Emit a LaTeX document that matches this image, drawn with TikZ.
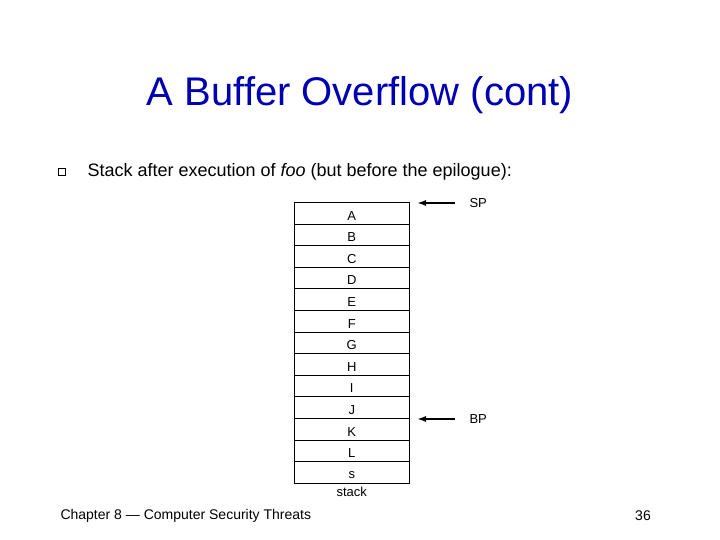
\documentclass[tikz,border=0pt]{standalone}
\usepackage{fontspec}
\usetikzlibrary{arrows.meta}
\setmainfont{Liberation Sans}
\begin{document}
\begin{tikzpicture}[x=1pt,y=-1pt,
  cell/.style={draw,semithick,minimum width=115pt,minimum height=21.6pt,inner sep=0pt,text depth=0pt,font=\fontsize{13}{13}\selectfont},
  lab/.style={font=\fontsize{13}{13}\selectfont},
  ptr/.style={-{Latex[length=9pt,width=6pt]},line width=1.6pt}]
\useasboundingbox (0,0) rectangle (720,540);
\node (title) at (360,95) {\fontsize{40}{42}\selectfont\color{blue!70!black}A Buffer Overflow (cont)};
\node[draw,minimum size=7pt,inner sep=0pt] (bul) at (62,172) {};
\node[anchor=west,font=\fontsize{18}{20}\selectfont] (txt) at (84,172) {Stack after execution of \textit{foo} (but before the epilogue):};
\foreach \l [count=\i from 0] in {A,B,C,D,E,F,G,H,I,J,K,L,s}{
  \node[cell,anchor=north west] (c\i) at (294,{202+21.6*\i}) {\raisebox{-5pt}{\l}};
}
\node[lab,anchor=north] (stk) at (c12.south) {stack};
\coordinate (spend) at (455,203);
\coordinate (bpend) at (455,419);
\node[lab,anchor=west] (sp) at (466,203) {SP};
\node[lab,anchor=west] (bp) at (466,419) {BP};
\draw[ptr] (spend) -- (417,203);
\draw[ptr] (bpend) -- (417,419);
\node[anchor=west,font=\fontsize{14}{14}\selectfont] (foot) at (57,516) {Chapter 8 --- Computer Security Threats};
\node[font=\fontsize{14}{14}\selectfont] (pg) at (643,516) {36};
\end{tikzpicture}
\end{document}
